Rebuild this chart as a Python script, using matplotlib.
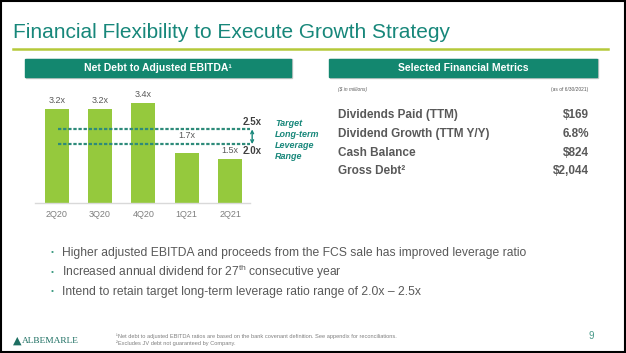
import matplotlib.pyplot as plt
import matplotlib as mpl
from matplotlib.patches import Rectangle

mpl.rcParams['font.family'] = ['Liberation Sans', 'DejaVu Sans']
mpl.rcParams['mathtext.fontset'] = 'custom'
mpl.rcParams['mathtext.rm'] = 'Liberation Sans'

# Data
quarters = ['2Q20', '3Q20', '4Q20', '1Q21', '2Q21']
leverage = [3.2, 3.2, 3.4, 1.7, 1.5]
target_low = 2.0
target_high = 2.5

metric_names = ['Dividends Paid (TTM)', 'Dividend Growth (TTM Y/Y)', 'Cash Balance', 'Gross Debt\u00b2']
metric_values = ['$169', '6.8%', '$824', '$2,044']

bullets = [
    'Higher adjusted EBITDA and proceeds from the FCS sale has improved leverage ratio',
    'Increased annual dividend for 27$^{\\mathrm{th}}$ consecutive year',
    'Intend to retain target long-term leverage ratio range of 2.0x \u2013 2.5x',
]
footnotes = [
    '\u00b9Net debt to adjusted EBITDA ratios are based on the bank covenant definition. See appendix for reconciliations.',
    '\u00b2Excludes JV debt not guaranteed by Company.',
]

W, H = 626, 353
teal = '#17877a'
green = '#95c93d'
gray = '#595959'


def fx(x):
    return x / W


def fy(y):
    return 1 - y / H


fig = plt.figure(figsize=(W / 100, H / 100), dpi=100)
fig.patch.set_facecolor('white')

# Frame
fig.patches.append(Rectangle((0.001, 0.002), 0.997, 0.995, transform=fig.transFigure,
                             fill=False, edgecolor='black', lw=1.5))

# Title and rule
fig.text(fx(13), fy(33), 'Financial Flexibility to Execute Growth Strategy',
         fontsize=15, color=teal, va='center', ha='left')
fig.add_artist(plt.Line2D([fx(13), fx(608)], [fy(49), fy(49)], color='#b5c93a', lw=1.8))

# Section headers
for x0, x1, label in [(25, 291, 'Net Debt to Adjusted EBITDA\u00b9'),
                      (329, 597, 'Selected Financial Metrics')]:
    fig.patches.append(Rectangle((fx(x0 + 1), fy(78)), fx(x1 - x0), 19 / H,
                                 transform=fig.transFigure, color='#c8c8c8', zorder=1))
    fig.patches.append(Rectangle((fx(x0), fy(77)), fx(x1 - x0), 18 / H,
                                 transform=fig.transFigure, color='#13876f', zorder=2))
    fig.text(fx((x0 + x1) / 2), fy(68), label, color='white', fontsize=7.5,
             fontweight='bold', ha='center', va='center', zorder=3)

# Bar chart
ax = fig.add_axes([fx(35), fy(203), fx(250 - 35), 106 / H])
x = range(len(quarters))
bars = ax.bar(x, leverage, width=0.55, color=green, zorder=2)
for b, v in zip(bars, leverage):
    # labels just under the target band get lifted onto the 2.0x line
    y = target_low if target_low - 0.4 < v < target_low else v
    ax.annotate(f'{v:.1f}x', (b.get_x() + b.get_width() / 2, y), xytext=(0, 3),
                textcoords='offset points', ha='center', va='bottom', fontsize=6.5, color=gray)
ax.set_xlim(-0.5, 4.46)
ax.set_ylim(0, 3.6)
ax.set_xticks(list(x), quarters)
ax.tick_params(axis='x', length=0, pad=5, labelsize=6.5, labelcolor='#7f7f7f')
ax.set_yticks([])
for s in ['top', 'left', 'right']:
    ax.spines[s].set_visible(False)
ax.spines['bottom'].set_color('#d9d9d9')
ax.spines['bottom'].set_linewidth(1)
ax.patch.set_alpha(0)

for lvl in [target_high, target_low]:
    ax.plot([0.02, 4.46], [lvl, lvl], color='#2e8b7a', lw=1.6, ls=(0, (1.5, 0.8)), zorder=3,
            clip_on=False)
ax.annotate('', xy=(4.51, target_high), xytext=(4.51, target_low),
            arrowprops=dict(arrowstyle='<->', color=teal, lw=1, mutation_scale=5,
                            shrinkA=0, shrinkB=0), annotation_clip=False)
ax.text(4.5, target_high + 0.08, f'{target_high:.1f}x', ha='center', va='bottom',
        fontsize=7, fontweight='bold', color='#404040')
ax.text(4.5, target_low - 0.08, f'{target_low:.1f}x', ha='center', va='top',
        fontsize=7, fontweight='bold', color='#404040')
fig.text(fx(275), fy(140), 'Target\nLong-term\nLeverage\nRange', ha='left', va='center',
         fontsize=6.5, fontweight='bold', fontstyle='italic', color=teal, linespacing=1.3)

# Selected financial metrics
fig.text(fx(338), fy(89), '($ in millions)', fontsize=3.5, fontstyle='italic', color=gray,
         va='center')
fig.text(fx(588), fy(89), '(as of 6/30/2021)', fontsize=3.5, color=gray, va='center', ha='right')
for i, (name, val) in enumerate(zip(metric_names, metric_values)):
    y = 115.5 + i * 18.6
    fig.text(fx(338), fy(y), name, fontsize=8.5, fontweight='bold', color=gray, va='center')
    fig.text(fx(589), fy(y), val, fontsize=8.5, fontweight='bold', color=gray, va='center',
             ha='right')

# Bullets
for i, b in enumerate(bullets):
    y = 252.7 + i * 19.5
    fig.text(fx(52), fy(y), '\u2022', fontsize=6, color='#3a9a80', va='center', ha='center')
    fig.text(fx(62), fy(y), b, fontsize=8.7, color=gray, va='center')

# Footer
fig.text(fx(13), fy(340.5), '\u25b2', fontsize=8, color='#1d6f62', va='center',
         family='DejaVu Sans')
fig.text(fx(22), fy(341), 'ALBEMARLE', fontsize=6.75, color='#1d6f62', va='center',
         family='Liberation Serif')
fig.text(fx(116), fy(336), footnotes[0], fontsize=4.1, color='#7f7f7f', va='center')
fig.text(fx(116), fy(343), footnotes[1], fontsize=4.1, color='#7f7f7f', va='center')
fig.text(fx(591), fy(336), '9', fontsize=7, color='#4a9a8a', va='center', ha='center')

fig.savefig('out.png', dpi=100)
